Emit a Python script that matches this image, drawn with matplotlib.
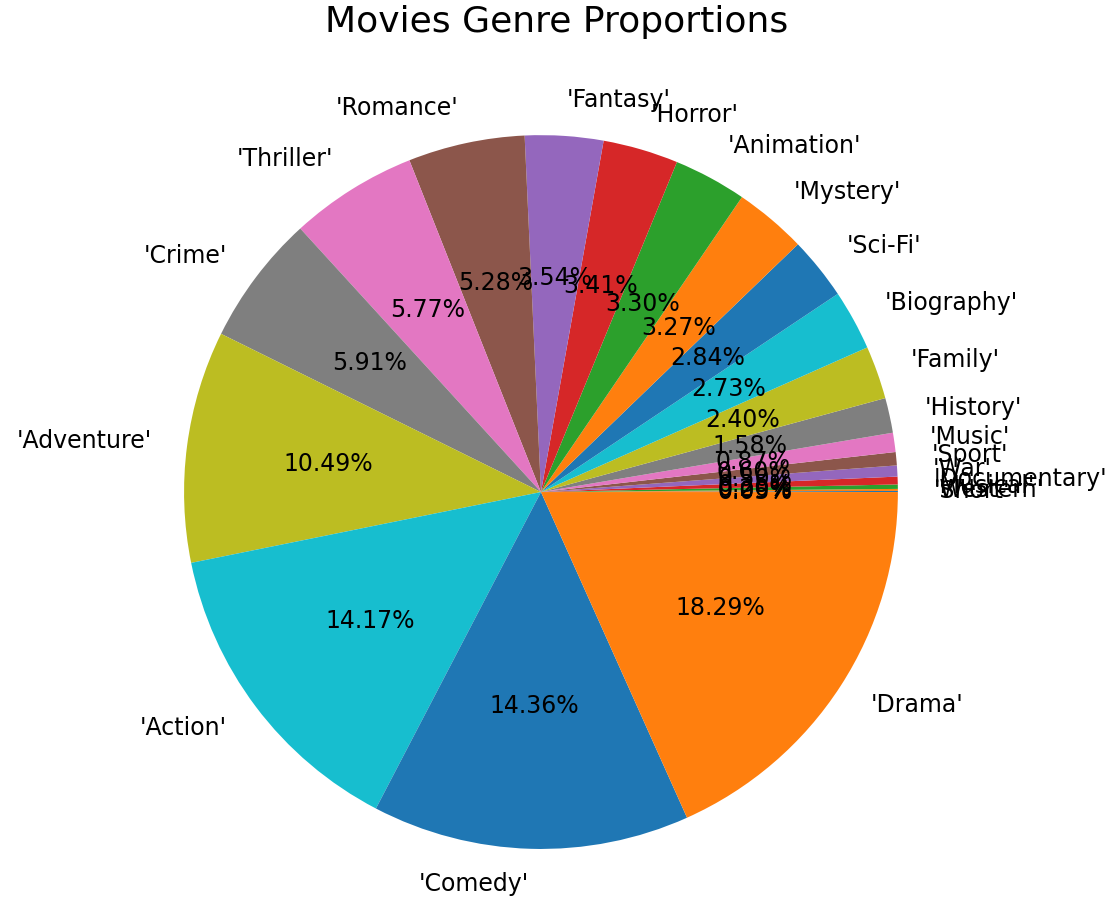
import matplotlib.pyplot as plt

genres = ['Short', 'Western', 'Musical', 'Documentary', 'War', 'Sport', 'Music',
          'History', 'Family', 'Biography', 'Sci-Fi', 'Mystery', 'Animation',
          'Horror', 'Fantasy', 'Romance', 'Thriller', 'Crime', 'Adventure',
          'Action', 'Comedy', 'Drama']
shares = [0.05, 0.09, 0.20, 0.35, 0.50, 0.60, 0.87,
          1.58, 2.40, 2.73, 2.84, 3.27, 3.30,
          3.41, 3.54, 5.28, 5.77, 5.91, 10.49,
          14.17, 14.36, 18.29]

etiquetas = ["'%s'" % g for g in genres]

fig = plt.figure(figsize=(11.13, 9.07), dpi=100)
ax = fig.add_axes([0.1653, 0.064, 0.6415, 0.787])
ax.pie(shares, labels=etiquetas, autopct='%.2f%%',
       textprops={'fontsize': 17})
ax.set_aspect('equal')
ax.set_xlim(-1, 1)
ax.set_ylim(-1, 1)
fig.suptitle('Movies Genre Proportions', fontsize=26, y=0.995)
fig.savefig('out.png')
